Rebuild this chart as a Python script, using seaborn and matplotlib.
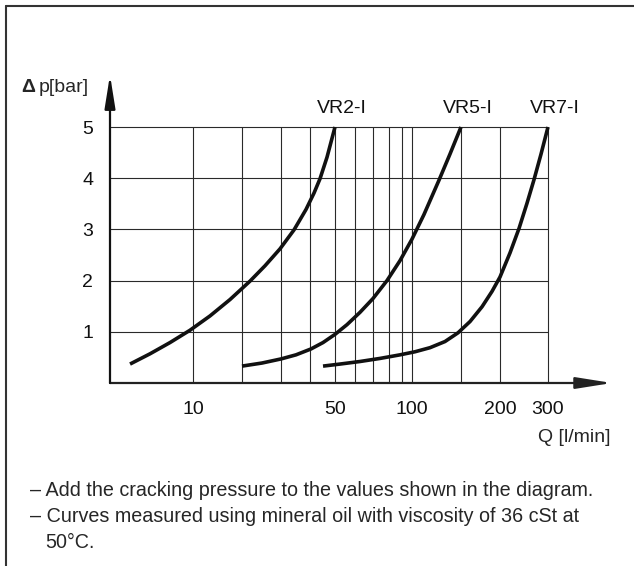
import numpy as np
import pandas as pd
import seaborn as sns
import matplotlib.pyplot as plt
from matplotlib.lines import Line2D

# curves: flow Q [l/min] and pressure drop [bar]
vr2_q = [4.99, 6.22, 7.76, 9.67, 12.72, 16.88, 21.74, 25.41, 29.69, 34.13, 38.45, 41.46, 43.74, 46.56, 50]
vr2_p = [0.37, 0.57, 0.79, 1.03, 1.31, 1.63, 1.99, 2.29, 2.62, 2.99, 3.39, 3.71, 3.99, 4.41, 5.0]

vr5_q = [20, 24.62, 30, 34.81, 40.36, 44.93, 50, 55.79, 62.62, 70, 78.67, 88.40, 100, 110.4, 125.0, 136.9, 150]
vr5_p = [0.33, 0.39, 0.47, 0.55, 0.665, 0.79, 0.95, 1.14, 1.38, 1.65, 2.0, 2.39, 2.81, 3.29, 3.96, 4.47, 5.0]

vr7_q = [44.93, 52.34, 62.62, 74.21, 88.40, 102.5, 116.1, 131.4, 146.3, 160.3, 175.2, 188.6, 200,
         217.6, 234.9, 251.2, 266.5, 282.8, 300]
vr7_p = [0.33, 0.37, 0.42, 0.48, 0.55, 0.61, 0.69, 0.81, 0.98, 1.20, 1.49, 1.79, 2.07,
         2.54, 3.02, 3.51, 3.97, 4.47, 5.0]

curve_names = ["VR2-I", "VR5-I", "VR7-I"]

# axis grid and labels of the diagram
grid_q = [10, 20, 30, 40, 50, 60, 70, 80, 90, 100, 150, 200, 300]
grid_p = [1, 2, 3, 4, 5]
xtick_vals = [10, 50, 100, 200, 300]
xtick_labels = ["10", "50", "100", "200", "300"]

# the printed Q axis is not a clean log axis, so map it piecewise
knot_q = np.array([4, 10, 20, 30, 40, 50, 60, 70, 80, 90, 100, 150, 200, 300, 600])
knot_x = np.array([110, 193, 242, 281, 310, 335, 355, 373, 389, 402, 412, 461, 500, 548, 612])
knot_lq = np.log10(knot_q)


def fwd(q):
    q = np.asarray(q, dtype=float)
    return np.interp(np.log10(np.clip(q, 1e-6, None)), knot_lq, knot_x)


def inv(x):
    return 10 ** np.interp(np.asarray(x, dtype=float), knot_x, knot_lq)


sns.set_style("white")
plt.rcParams['font.family'] = ['Liberation Sans', 'DejaVu Sans']
FS = 14

W, H = 634, 566
fig = plt.figure(figsize=(W / 100, H / 100), dpi=100)
ax = fig.add_axes([110 / W, 1 - 383 / H, 502 / W, 308 / H])
ax.set_xscale('function', functions=(fwd, inv))
ax.set_xlim(4, 600)
ax.set_ylim(0, 308 / 51.2)
for s in ax.spines.values():
    s.set_visible(False)

# grid
ax.hlines(grid_p, 4, 300, color='#2a2a2a', lw=0.8)
ax.vlines(grid_q, 0, 5, color='#2a2a2a', lw=0.8)

# curves
df = pd.concat([
    pd.DataFrame({'Q': vr2_q, 'dp': vr2_p, 'curve': curve_names[0]}),
    pd.DataFrame({'Q': vr5_q, 'dp': vr5_p, 'curve': curve_names[1]}),
    pd.DataFrame({'Q': vr7_q, 'dp': vr7_p, 'curve': curve_names[2]}),
])
for name in curve_names:
    d = df[df['curve'] == name]
    sns.lineplot(data=d, x='Q', y='dp', sort=False, estimator=None,
                 color='#111111', lw=2.6, ax=ax, legend=False,
                 solid_joinstyle='round', solid_capstyle='butt')
    ax.annotate(name, xy=(d['Q'].iloc[-1], 5.37), xytext=(5, 0),
                textcoords='offset points', ha='center', va='center',
                fontsize=FS, color='#111111')

# axes with arrows
ax.annotate('', xy=(600, 0), xytext=(4, 0), annotation_clip=False,
            arrowprops=dict(arrowstyle='-|>,head_length=2.2,head_width=0.35',
                            color='#222222', lw=1.6, shrinkA=0, shrinkB=0))
ax.annotate('', xy=(4, 308 / 51.2), xytext=(4, 0), annotation_clip=False,
            arrowprops=dict(arrowstyle='-|>,head_length=2.0,head_width=0.32',
                            color='#111111', lw=1.6, shrinkA=0, shrinkB=0))

ax.set_xticks(xtick_vals)
ax.set_xticklabels(xtick_labels)
ax.set_yticks(grid_p)
ax.set_yticklabels([str(v) for v in grid_p])
ax.minorticks_off()
ax.tick_params(axis='x', length=0, pad=13, labelsize=FS, colors='#111111')
ax.tick_params(axis='y', length=0, pad=12, labelsize=FS, colors='#111111')
ax.set_xlabel('')
ax.set_ylabel('')

# axis titles
fig.text(21 / W, 1 - 87 / H, 'Δ', fontsize=FS, weight='bold', va='center')
fig.text(39 / W, 1 - 87 / H, 'p[bar]', fontsize=FS, va='center')
fig.text(611 / W, 1 - 437 / H, 'Q [l/min]', fontsize=FS, ha='right', va='center')

# notes under the chart
fig.text(30 / W, 1 - 490 / H, '– Add the cracking pressure to the values shown in the diagram.',
         fontsize=14.2, va='center')
fig.text(30 / W, 1 - 517 / H, '– Curves measured using mineral oil with viscosity of 36 cSt at',
         fontsize=14.2, va='center')
fig.text(45 / W, 1 - 543 / H, '50°C.', fontsize=14.2, va='center')

# frame
fig.add_artist(Line2D([6 / W, 1], [1 - 6 / H, 1 - 6 / H], color='#333333', lw=1.5))
fig.add_artist(Line2D([6 / W, 6 / W], [0, 1 - 6 / H], color='#333333', lw=1.5))

fig.savefig('out.png', dpi=100)
